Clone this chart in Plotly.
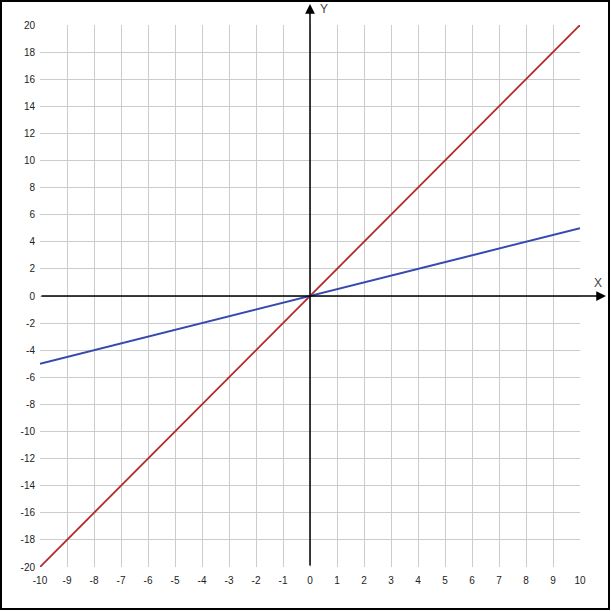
import plotly.graph_objects as go

x_vals = [-10, 0, 10]
red_y = [-20, 0, 20]
blue_y = [-5, 0, 5]
x_ticks = list(range(-10, 11, 1))
y_ticks = list(range(-20, 21, 2))

W, H = 611, 611
L, R, T, B = 40, 31, 25, 44
pw, ph = W - L - R, H - T - B


def px(xp):
    return (xp - L) / pw


def py(yp):
    return (H - B - yp) / ph


fig = go.Figure()
fig.add_trace(go.Scatter(x=x_vals, y=red_y, mode="lines",
                         line=dict(color="#b22a2a", width=1.8), hoverinfo="skip"))
fig.add_trace(go.Scatter(x=x_vals, y=blue_y, mode="lines",
                         line=dict(color="#3549b0", width=2), hoverinfo="skip"))

tickfont = dict(family="Liberation Sans, Arial, sans-serif", size=10, color="#222")
fig.update_xaxes(range=[-10, 10], tickvals=x_ticks, ticktext=[str(v) for v in x_ticks],
                 showgrid=True, gridcolor="#cccccc", gridwidth=1, zeroline=False,
                 showline=False, ticks="", tickfont=tickfont, ticklabelstandoff=6,
                 fixedrange=True)
fig.update_yaxes(range=[-20, 20], tickvals=y_ticks, ticktext=[str(v) for v in y_ticks],
                 showgrid=True, gridcolor="#cccccc", gridwidth=1, zeroline=False,
                 showline=False, ticks="", tickfont=tickfont, ticklabelstandoff=4,
                 fixedrange=True)

# axes with arrows
fig.add_annotation(xref="paper", yref="paper", x=0.5, y=py(4), ax=0, ay=563,
                   axref="pixel", ayref="pixel", showarrow=True, arrowhead=2,
                   arrowsize=1.3, arrowwidth=1.5, arrowcolor="black", text="")
fig.add_annotation(xref="paper", yref="paper", x=px(606), y=0.5, ax=-566, ay=0,
                   axref="pixel", ayref="pixel", showarrow=True, arrowhead=2,
                   arrowsize=1.3, arrowwidth=1.5, arrowcolor="black", text="")

labfont = dict(family="Liberation Sans, Arial, sans-serif", size=12, color="#444")
fig.add_annotation(xref="paper", yref="paper", x=px(324), y=py(9), text="Y",
                   showarrow=False, font=labfont, xanchor="center", yanchor="middle")
fig.add_annotation(xref="paper", yref="paper", x=px(598), y=py(283), text="X",
                   showarrow=False, font=labfont, xanchor="center", yanchor="middle")

# frame
fig.add_shape(type="rect", xref="paper", yref="paper",
              x0=px(1), x1=px(609), y0=py(609), y1=py(1),
              line=dict(color="black", width=2), layer="above")

fig.update_layout(width=W, height=H, margin=dict(l=L, r=R, t=T, b=B, pad=0),
                  paper_bgcolor="white", plot_bgcolor="white", showlegend=False)

fig.write_html("out.html", config={"displayModeBar": False},
               post_script="document.body.style.margin='0';document.body.style.padding='0';")
